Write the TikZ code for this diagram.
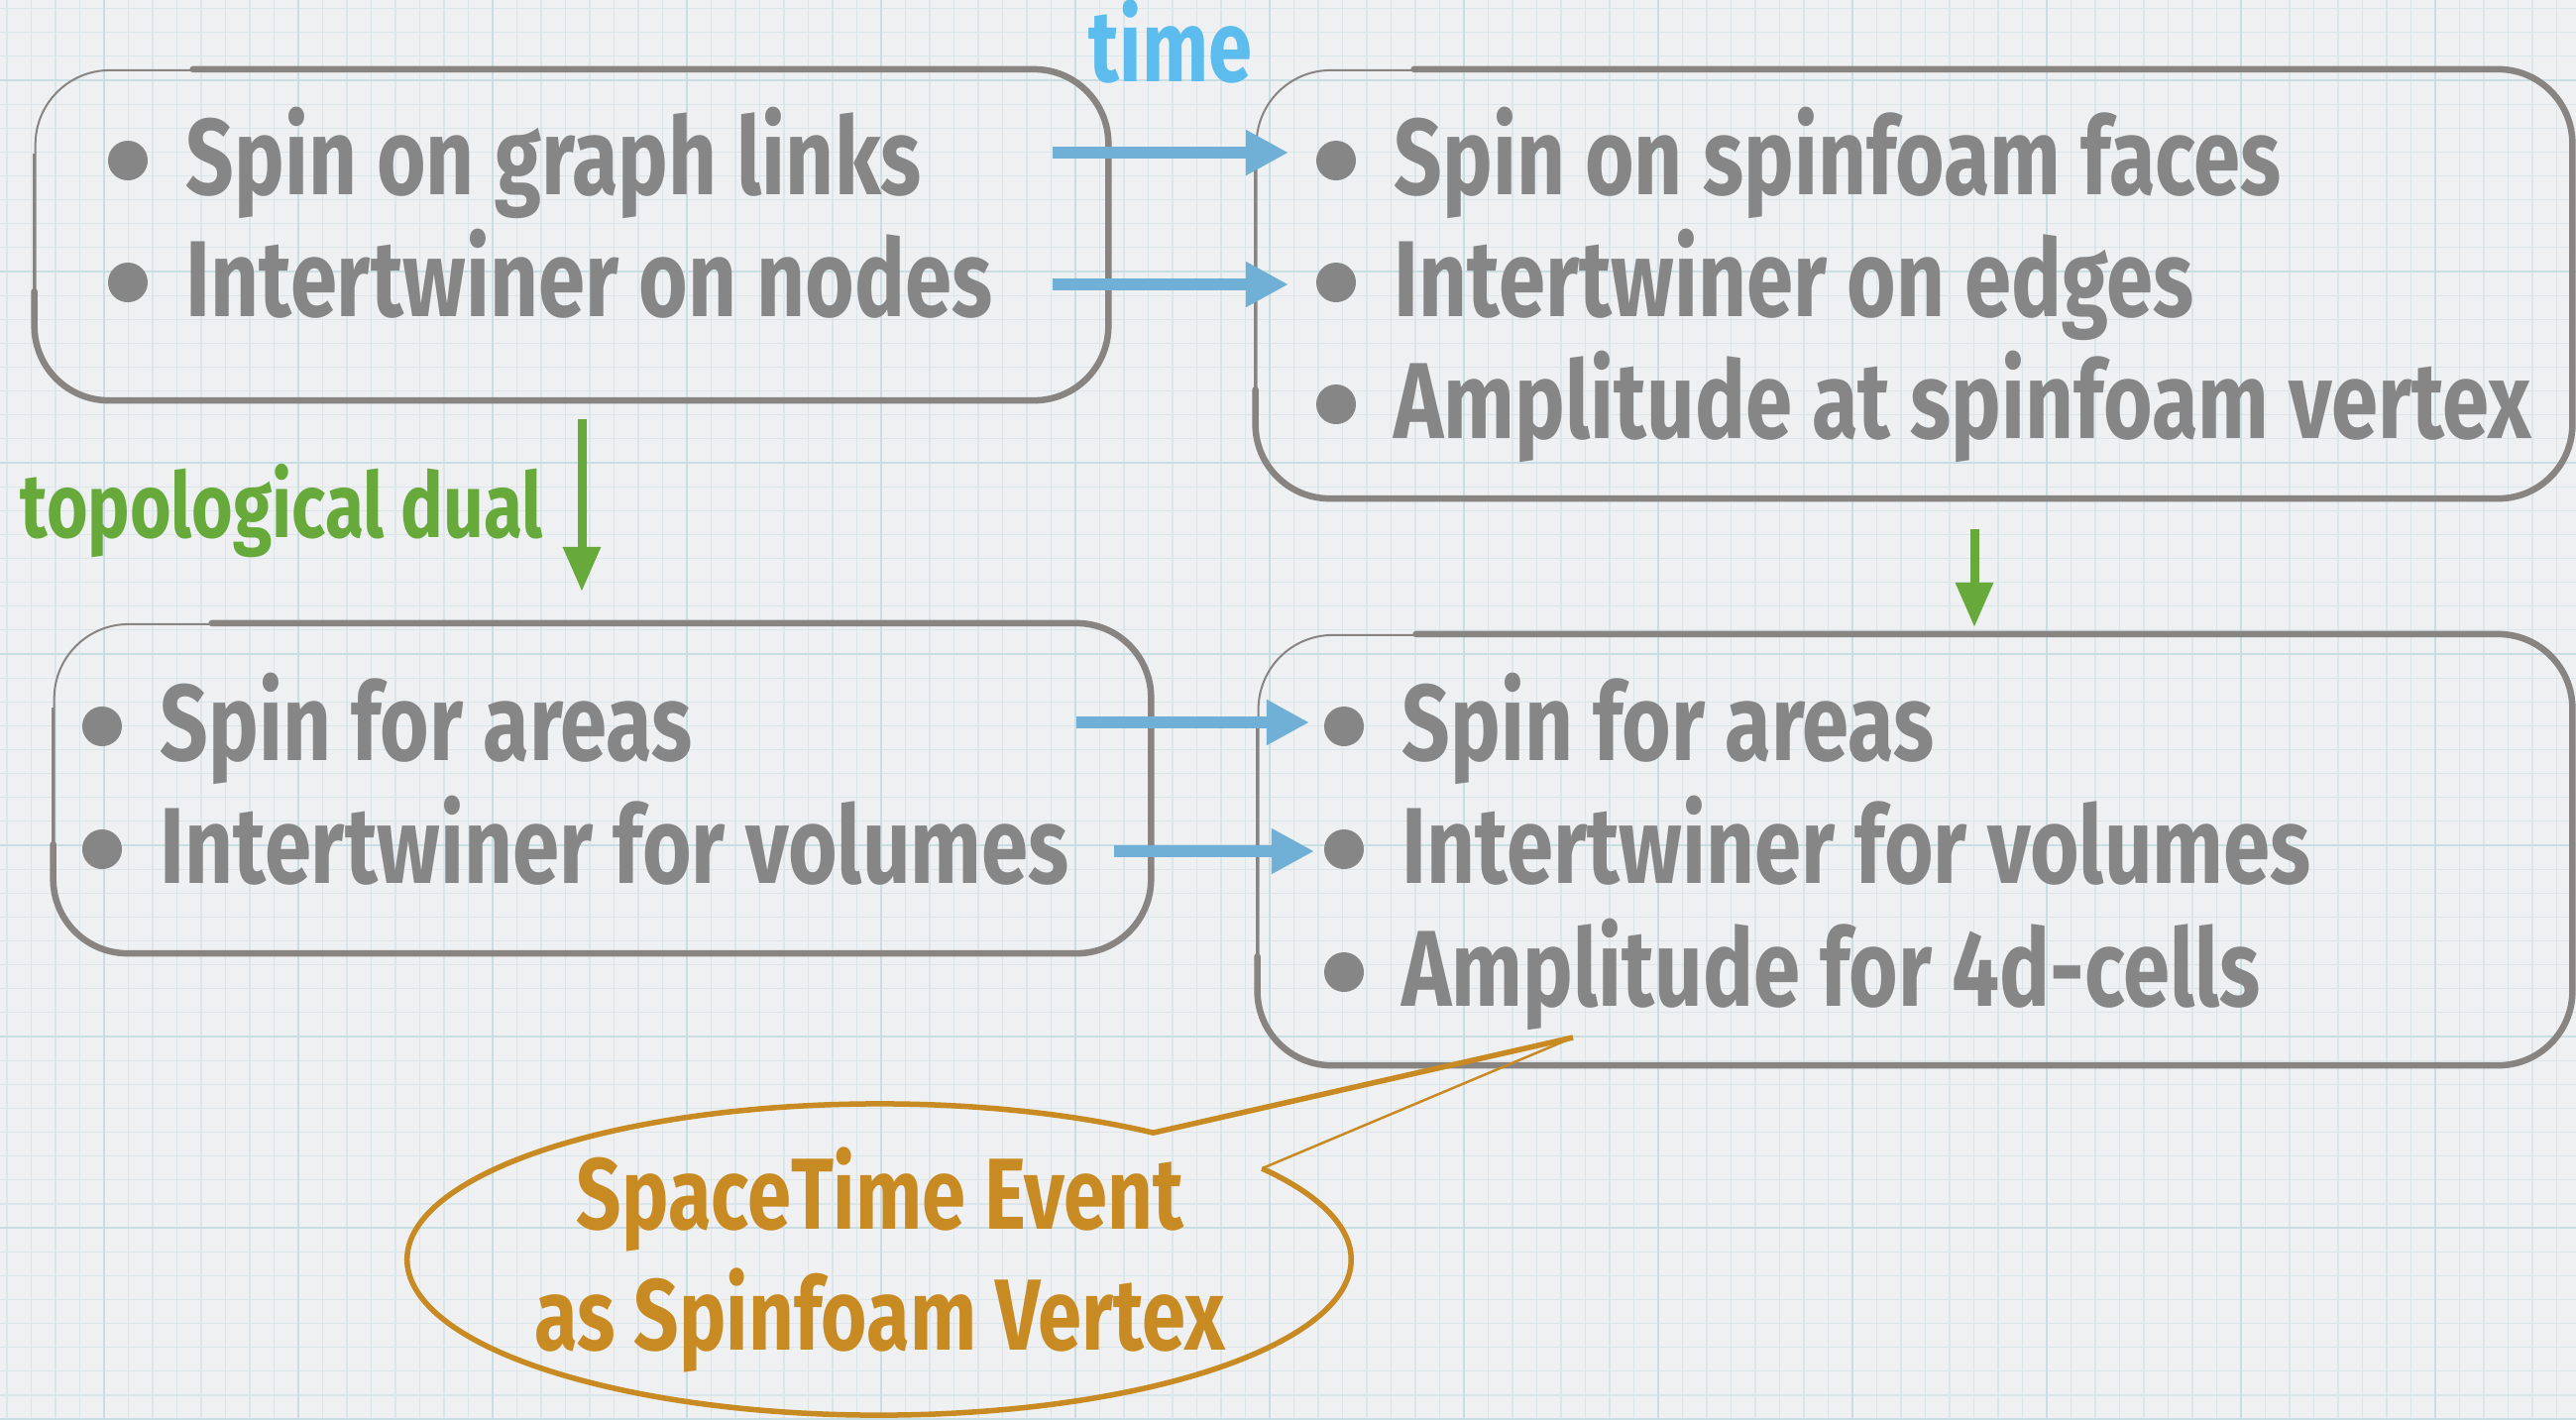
\documentclass[tikz,border=0pt]{standalone}
\usepackage{fontspec}
\usetikzlibrary{arrows.meta,calc}
\newfontfamily\chalk[FakeStretch=0.78]{Fira Sans}
\definecolor{bg}{HTML}{EEF0F2}
\definecolor{gridminor}{HTML}{DCE5EA}
\definecolor{gridmajor}{HTML}{C8DEE3}
\definecolor{textgray}{HTML}{868686}
\definecolor{boxgray}{HTML}{888482}
\definecolor{arrowblue}{HTML}{71B0D6}
\definecolor{timeblue}{HTML}{5CBCEE}
\definecolor{dualgreen}{HTML}{67AA3B}
\definecolor{ochre}{HTML}{C88A22}
\tikzset{
  boxstyle/.style={draw=boxgray, line width=0.02cm, rounded corners=0.75cm, inner sep=0},
  boxthick/.style={draw=boxgray, line width=0.065cm, rounded corners=0.75cm, line cap=round},
  boxside/.style={draw=boxgray, line width=0.035cm},
  txt/.style={anchor=base west, inner sep=0, text=textgray, font=\chalk\bfseries\fontsize{31}{36}\selectfont},
  bul/.style={circle, fill=textgray, minimum size=0.4cm, inner sep=0},
  bluearrow/.style={draw=arrowblue, line width=0.12cm, -{Triangle[length=0.43cm,width=0.43cm]}},
  greenarrow/.style={draw=dualgreen, line width=0.09cm, -{Triangle[length=0.45cm,width=0.36cm]}},
  calltxt/.style={anchor=base, inner sep=0, text=ochre, font=\chalk\bfseries\fontsize{29}{34}\selectfont},
}
\begin{document}
\begin{tikzpicture}[x=0.01cm,y=-0.01cm]
% background and grid
\fill[bg] (0,0) rectangle (2599,1432);
\useasboundingbox (0,0) rectangle (2599,1432);
\begin{scope}
\clip (0,0) rectangle (2599,1432);
\foreach \i in {0,...,112} {
  \draw[gridminor, line width=0.012cm] ({-91+24.5*\i},0) -- ({-91+24.5*\i},1432);
}
\foreach \j in {0,...,66} {
  \draw[gridminor, line width=0.012cm] (0,{-112+24.125*\j}) -- (2599,{-112+24.125*\j});
}
\foreach \i in {0,...,14} {
  \draw[gridmajor, line width=0.025cm] ({-91+196*\i},0) -- ({-91+196*\i},1432);
}
\foreach \j in {0,...,8} {
  \draw[gridmajor, line width=0.025cm] (0,{-112+193*\j}) -- (2599,{-112+193*\j});
}
\end{scope}

% boxes (thin outline, then the heavier hand-drawn stroke)
\node[boxstyle, minimum width=10.81cm, minimum height=3.32cm] (b1) at (576.5,237) {};
\node[boxstyle, minimum width=13.26cm, minimum height=4.31cm] (b2) at (1931,286.5) {};
\node[boxstyle, minimum width=11.05cm, minimum height=3.31cm] (b3) at (607.5,795.5) {};
\node[boxstyle, minimum width=13.24cm, minimum height=4.33cm] (b4) at (1932,857.5) {};
\foreach \b in {b1,b2,b3,b4} {
  \draw[boxthick] ($(\b.north west)+(160,0)$) -- (\b.north east) -- (\b.south east)
    -- (\b.south west) -- ($(\b.south west)+(0,-110)$);
  \draw[boxside] ($(\b.south west)+(0,-100)$) -- ($(\b.north west)+(0,85)$);
}

% box 1
\node[bul] (u11) at (129,162) {};
\node[bul] (u12) at (129,285) {};
\node[txt] (t11) at (187,196) {Spin on graph links};
\node[txt] (t12) at (187,319) {Intertwiner on nodes};
% box 2
\node[bul] (u21) at (1348,162) {};
\node[bul] (u22) at (1348,285) {};
\node[bul] (u23) at (1348,408) {};
\node[txt] (t21) at (1406,196) {Spin on spinfoam faces};
\node[txt] (t22) at (1406,319) {Intertwiner on edges};
\node[txt] (t23) at (1406,442) {Amplitude at spinfoam vertex};
% box 3
\node[bul] (u31) at (103,733) {};
\node[bul] (u32) at (103,857) {};
\node[txt] (t31) at (161,767) {Spin for areas};
\node[txt] (t32) at (161,891) {Intertwiner for volumes};
% box 4
\node[bul] (u41) at (1356,733) {};
\node[bul] (u42) at (1356,857) {};
\node[bul] (u43) at (1356,981) {};
\node[txt] (t41) at (1414,767) {Spin for areas};
\node[txt] (t42) at (1414,891) {Intertwiner for volumes};
\node[txt] (t43) at (1414,1015) {Amplitude for 4d-cells};

% labels
\node[anchor=base, inner sep=0, text=timeblue, font=\chalk\bfseries\fontsize{29}{34}\selectfont] (time) at (1181,82) {time};
\node[anchor=base west, inner sep=0, text=dualgreen, font=\chalk\bfseries\fontsize{26}{31}\selectfont] (dual) at (20,542) {topological dual};

% blue arrows
\coordinate (a1s) at (1062,154); \coordinate (a1e) at (1300,154);
\coordinate (a2s) at (1062,287); \coordinate (a2e) at (1300,287);
\coordinate (a3s) at (1086,729); \coordinate (a3e) at (1321,729);
\coordinate (a4s) at (1124,859); \coordinate (a4e) at (1326,859);
\draw[bluearrow] (a1s) -- (a1e);
\draw[bluearrow] (a2s) -- (a2e);
\draw[bluearrow] (a3s) -- (a3e);
\draw[bluearrow] (a4s) -- (a4e);

% green arrows
\coordinate (g1s) at (587,423); \coordinate (g1e) at (587,597);
\coordinate (g2s) at (1992,534); \coordinate (g2e) at (1992,633);
\draw[greenarrow] (g1s) -- (g1e);
\draw[greenarrow] (g2s) -- (g2e);

% callout
\coordinate (cc) at (887,1271);
\coordinate (cA) at ($(cc)+(54.5:4.76cm and 1.57cm)$);
\coordinate (cB) at ($(cc)+(35.8:4.76cm and 1.57cm)$);
\coordinate (cT) at (1587,1047);
\draw[ochre, line width=0.055cm, line join=miter]
  (cT) -- (cA) arc[start angle=54.5, end angle=395.8, x radius=4.76cm, y radius=1.57cm];
\draw[ochre, line width=0.025cm] (cB) -- (cT);
\node[calltxt] (ev1) at (888,1240) {SpaceTime Event};
\node[calltxt] (ev2) at (888,1362) {as Spinfoam Vertex};
\end{tikzpicture}
\end{document}
